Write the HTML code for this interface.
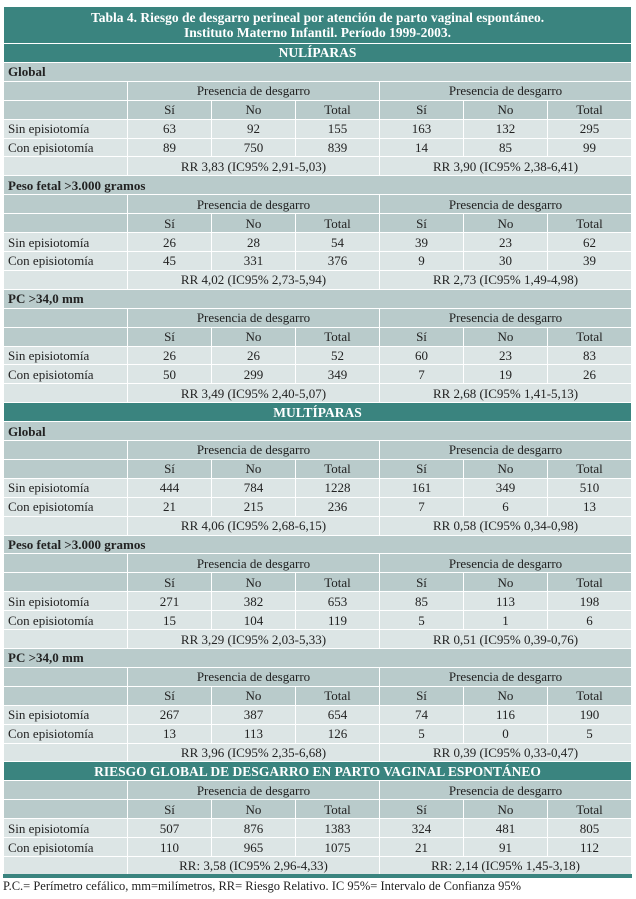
<!DOCTYPE html>
<html><head><meta charset="utf-8">
<style>
body{margin:0;background:#fff;width:636px;height:899px;overflow:hidden;font-family:"Liberation Serif",serif;}
table{position:absolute;left:3px;top:6px;border-collapse:collapse;table-layout:fixed;width:628px;font-size:13px;color:#222;}
td{border:1px solid #fff;padding:0 4px;height:17.9px;line-height:17px;text-align:center;white-space:nowrap;overflow:hidden;box-sizing:border-box;}
tr{height:18.92px;}
td.l{text-align:left;}
tr.title{height:37px;}
tr.title td{background:#3a847f;color:#fff;font-weight:bold;font-size:13.5px;line-height:15px;height:37px;}
tr.sec td{background:#3a847f;color:#fff;font-weight:bold;font-size:13.5px;}
tr.grp td{background:#b9cbcb;font-weight:bold;text-align:left;}
tr.hd td{background:#b9cbcb;}
tr.dt td{background:#dce5e5;}
tr.last td{border-bottom:4px solid #3a847f;}
.note{position:absolute;left:3px;top:879px;font-size:12.5px;color:#222;}
</style></head><body>
<table id="t">
<colgroup><col style="width:124px"><col style="width:84px"><col style="width:84px"><col style="width:84px"><col style="width:84px"><col style="width:84px"><col style="width:84px"></colgroup>
<tbody id="tb"></tbody></table>
<div class="note">P.C.= Perímetro cefálico, mm=milímetros, RR= Riesgo Relativo. IC 95%= Intervalo de Confianza 95%</div>
<script>
const sections=[
{title:"NULÍPARAS",groups:[
{name:"Global",sin:[63,92,155,163,132,295],con:[89,750,839,14,85,99],rr:["RR 3,83 (IC95% 2,91-5,03)","RR 3,90 (IC95% 2,38-6,41)"]},
{name:"Peso fetal >3.000 gramos",sin:[26,28,54,39,23,62],con:[45,331,376,9,30,39],rr:["RR 4,02 (IC95% 2,73-5,94)","RR 2,73 (IC95% 1,49-4,98)"]},
{name:"PC >34,0 mm",sin:[26,26,52,60,23,83],con:[50,299,349,7,19,26],rr:["RR 3,49 (IC95% 2,40-5,07)","RR 2,68 (IC95% 1,41-5,13)"]}]},
{title:"MULTÍPARAS",groups:[
{name:"Global",sin:[444,784,1228,161,349,510],con:[21,215,236,7,6,13],rr:["RR 4,06 (IC95% 2,68-6,15)","RR 0,58 (IC95% 0,34-0,98)"]},
{name:"Peso fetal >3.000 gramos",sin:[271,382,653,85,113,198],con:[15,104,119,5,1,6],rr:["RR 3,29 (IC95% 2,03-5,33)","RR 0,51 (IC95% 0,39-0,76)"]},
{name:"PC >34,0 mm",sin:[267,387,654,74,116,190],con:[13,113,126,5,0,5],rr:["RR 3,96 (IC95% 2,35-6,68)","RR 0,39 (IC95% 0,33-0,47)"]}]},
{title:"RIESGO GLOBAL DE DESGARRO EN PARTO VAGINAL ESPONTÁNEO",groups:[
{name:null,sin:[507,876,1383,324,481,805],con:[110,965,1075,21,91,112],rr:["RR: 3,58 (IC95% 2,96-4,33)","RR: 2,14 (IC95% 1,45-3,18)"]}]}];
const tb=document.getElementById('tb');
function row(cls,cells){const tr=document.createElement('tr');tr.className=cls;


cells.forEach(c=>{const td=document.createElement('td');td.innerHTML=c[0];if(c[1])td.colSpan=c[1];if(c[2])td.className=c[2];


tr.appendChild(td);});tb.appendChild(tr);return tr;}
row('title',[["Tabla 4. Riesgo de desgarro perineal por atención de parto vaginal espontáneo.<br>Instituto Materno Infantil. Período 1999-2003.",7]]);
sections.forEach((s,si)=>{
row('sec',[[s.title,7]]);
s.groups.forEach((g,gi)=>{
if(g.name)row('grp',[[g.name,7,'l']]);
row('hd',[["",1],["Presencia de desgarro",3],["Presencia de desgarro",3]]);
row('hd',[["",1],["Sí"],["No"],["Total"],["Sí"],["No"],["Total"]]);
row('dt',[["Sin episiotomía",1,'l']].concat(g.sin.map(v=>[String(v)])));
row('dt',[["Con episiotomía",1,'l']].concat(g.con.map(v=>[String(v)])));
const r=row('dt',[["",1],[g.rr[0],3],[g.rr[1],3]]);
if(si===sections.length-1)r.className='dt last';
});});
</script>
</body></html>
